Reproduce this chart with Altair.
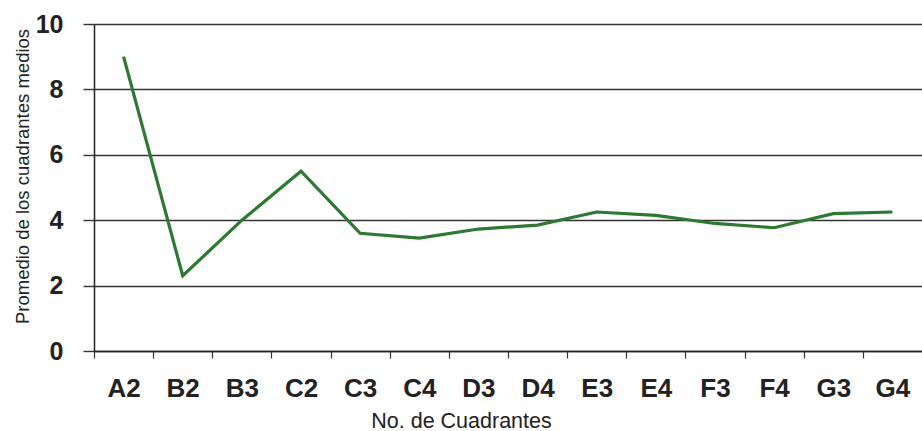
import altair as alt
import pandas as pd

categories = ["A2", "B2", "B3", "C2", "C3", "C4", "D3", "D4", "E3", "E4", "F3", "F4", "G3", "G4"]
values = [9.0, 2.3, 4.0, 5.5, 3.6, 3.45, 3.73, 3.85, 4.25, 4.15, 3.9, 3.77, 4.2, 4.25]
y_ticks = [0, 2, 4, 6, 8, 10]

df = pd.DataFrame({"cat": categories, "val": values, "idx": list(range(len(categories)))})

W, H = 828, 327
n = len(categories)
step = W / n

label_arr = "[" + ",".join("'" + c + "'" for c in categories) + "]"

font = "Liberation Sans"

chart = alt.Chart(df).transform_calculate(
    pos="datum.idx + 0.5"
).mark_line(color="#2a7a30", strokeWidth=3.2).encode(
    x=alt.X("pos:Q", scale=alt.Scale(domain=[0, n], nice=False, zero=False),
            axis=alt.Axis(values=list(range(n)), labelExpr=label_arr + "[datum.value]",
                          labelOffset=step / 2, grid=False, tickSize=7, tickColor="#333",
                          tickWidth=1.2, domainColor="#222", domainWidth=1.5,
                          labelFont=font, labelFontSize=26, labelFontWeight="bold",
                          labelColor="#222", labelPadding=17, labelFlush=False,
                          labelOverlap=False,
                          title="No. de Cuadrantes", titleFont=font, titleFontSize=21.5,
                          titleFontWeight="normal", titleColor="#222",
                          titleX=367, titleY=70, titleBaseline="middle", titleAlign="center")),
    y=alt.Y("val:Q", scale=alt.Scale(domain=[0, 10], nice=False),
            axis=alt.Axis(values=y_ticks, grid=True, gridColor="#333", gridWidth=1.4,
                          tickSize=11, tickColor="#333", tickWidth=1.4,
                          domainColor="#222", domainWidth=1.5,
                          labelFont=font, labelFontSize=25, labelFontWeight="bold",
                          labelColor="#222", labelPadding=20,
                          title="Promedio de los cuadrantes medios", titleFont=font,
                          titleFontSize=18.5, titleFontWeight="normal", titleColor="#222",
                          titleX=-72, titleY=152, titleBaseline="middle", titleAlign="center"))
).properties(
    width=W, height=H,
    autosize=alt.AutoSizeParams(type="none"),
    padding={"left": 94, "top": 24, "right": 0, "bottom": 80}
).configure_view(stroke=None).configure(background="white")

chart.save("out.html", embed_options={"renderer": "svg", "actions": False})
